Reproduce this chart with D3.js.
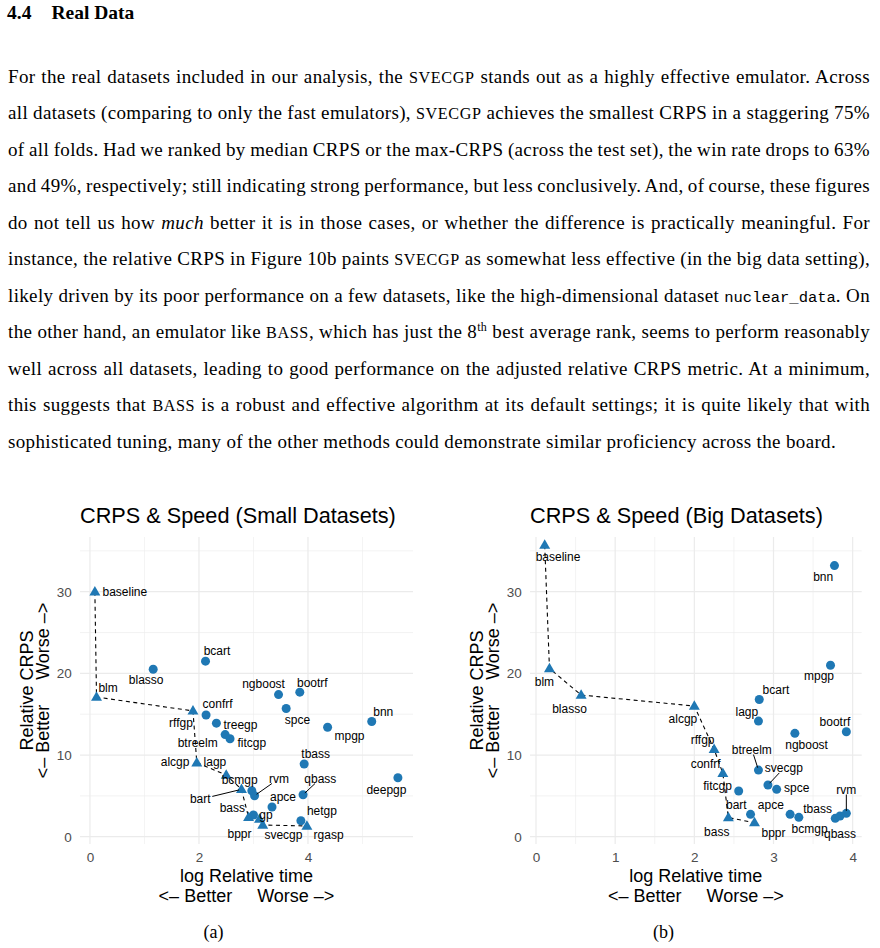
<!DOCTYPE html>
<html>
<head>
<meta charset="utf-8">
<script src="https://cdn.jsdelivr.net/npm/d3@7"></script>
<style>
  body { margin: 0; background: #fff; }
  #page { position: relative; width: 880px; height: 948px; overflow: hidden;
          font-family: "Liberation Serif", "Times New Roman", serif; color: #000; }
  .heading { position: absolute; top: 2px; font-weight: bold; font-size: 19.5px; line-height: 22px; white-space: nowrap; }
  .line { position: absolute; left: 8px; width: 862px; font-size: 19px; letter-spacing: 0.35px;
          line-height: 20px; white-space: nowrap; }
  .sc { font-size: 0.85em; letter-spacing: 0.6px; }
  .tt { font-family: "Liberation Mono", monospace; font-size: 15.5px; letter-spacing: 0; }
  sup { font-size: 12px; line-height: 0; vertical-align: 7px; }
  svg { position: absolute; left: 0; top: 0; }
</style>
</head>
<body>
<div id="page"></div>
<script>
// ---- text of the section ----
const paragraphLines = [
  'For the real datasets included in our analysis, the <span class="sc">SVECGP</span> stands out as a highly effective emulator. Across',
  'all datasets (comparing to only the fast emulators), <span class="sc">SVECGP</span> achieves the smallest CRPS in a staggering 75%',
  'of all folds. Had we ranked by median CRPS or the max-CRPS (across the test set), the win rate drops to 63%',
  'and 49%, respectively; still indicating strong performance, but less conclusively. And, of course, these figures',
  'do not tell us how <i>much</i> better it is in those cases, or whether the difference is practically meaningful. For',
  'instance, the relative CRPS in Figure 10b paints <span class="sc">SVECGP</span> as somewhat less effective (in the big data setting),',
  'likely driven by its poor performance on a few datasets, like the high-dimensional dataset <span class="tt">nuclear_data</span>. On',
  'the other hand, an emulator like <span class="sc">BASS</span>, which has just the 8<sup>th</sup> best average rank, seems to perform reasonably',
  'well across all datasets, leading to good performance on the adjusted relative CRPS metric. At a minimum,',
  'this suggests that <span class="sc">BASS</span> is a robust and effective algorithm at its default settings; it is quite likely that with',
  'sophisticated tuning, many of the other methods could demonstrate similar proficiency across the board.'
];

// ---- small datasets (a) ----
const smallMethods = ["baseline", "blm", "blasso", "bcart", "ngboost", "bootrf", "rffgp", "confrf", "treegp", "btreelm",
  "fitcgp", "alcgp", "lagp", "bart", "bcmgp", "rvm", "apce", "qbass", "tbass", "deepgp", "spce", "mpgp", "bnn",
  "bass", "bppr", "svecgp", "rgasp", "gp", "hetgp"];
const smallTime = [0.09, 0.12, 1.16, 2.12, 3.46, 3.85, 1.89, 2.13, 2.32, 2.48,
  2.57, 1.96, 2.50, 2.78, 2.97, 3.02, 3.34, 3.91, 3.93, 5.65, 3.60, 4.36, 5.17,
  2.91, 3.11, 3.17, 3.98, 3.00, 3.87];
const smallCrps = [30.0, 17.1, 20.5, 21.5, 17.4, 17.7, 15.4, 14.9, 13.9, 12.5,
  12.0, 9.06, 7.55, 5.8, 5.63, 5.02, 3.64, 5.14, 8.9, 7.22, 15.7, 13.4, 14.1,
  2.37, 2.17, 1.43, 1.31, 2.66, 1.96];
const smallFront = ["baseline", "blm", "rffgp", "alcgp", "lagp", "bart", "bass", "bppr", "svecgp", "rgasp"];

// ---- big datasets (b) ----
const bigMethods = ["baseline", "blm", "blasso", "alcgp", "bnn", "mpgp", "bcart", "lagp", "bootrf", "ngboost",
  "rffgp", "confrf", "btreelm", "svecgp", "spce", "fitcgp", "bart", "apce", "bcmgp", "tbass", "qbass", "rvm",
  "bass", "bppr"];
const bigTime = [0.11, 0.17, 0.57, 2.00, 3.77, 3.72, 2.82, 2.81, 3.92, 3.27,
  2.25, 2.36, 2.81, 2.93, 3.04, 2.56, 2.71, 3.21, 3.32, 3.78, 3.84, 3.92,
  2.43, 2.76];
const bigCrps = [35.7, 20.6, 17.35, 16.0, 33.2, 21.0, 16.8, 14.16, 12.85, 12.66,
  10.7, 7.76, 8.16, 6.33, 5.8, 5.59, 2.74, 2.74, 2.37, 2.25, 2.53, 2.86,
  2.33, 1.72];
const bigFront = ["baseline", "blm", "blasso", "alcgp", "rffgp", "confrf", "bass", "bppr"];

// ticks
const yMajor = [0, 10, 20, 30];
const yMinor = [5, 15, 25, 35];
const smallXMajor = [0, 2, 4];
const smallXMinor = [1, 3, 5];
const bigXMajor = [0, 1, 2, 3, 4];
const bigXMinor = [0.5, 1.5, 2.5, 3.5];

// label placement (repel-style nudges in px) and which labels get a leader segment
const smallNudge = {
  baseline: [30, 0], blm: [11.6, -9.4], blasso: [-7, 11], bcart: [11.5, -10.3], ngboost: [-15, -10.4],
  bootrf: [12.5, -9.6], rffgp: [-12, 12.3], confrf: [11.5, -11.3], treegp: [24, 1.7], btreelm: [-27.5, 8.4],
  fitcgp: [21.7, 4.4], alcgp: [-21.7, -0.7], lagp: [-11.3, -13], bart: [-41.2, 9.7], bcmgp: [-12.2, -10.7],
  rvm: [24.5, -17.4], apce: [11, -10.3], qbass: [17.3, -16.4], tbass: [11.5, -10.7], deepgp: [-11.5, 11.6],
  spce: [11.3, 11.7], mpgp: [21.9, 8.7], bnn: [11.5, -10], bass: [-16.2, -10], bppr: [-20, 15.3],
  svecgp: [20.7, 9.3], rgasp: [21.7, 8.3], gp: [12.5, 0], hetgp: [21, -10]
};
const smallLeaders = ["bart", "rvm", "qbass"];
const bigNudge = {
  baseline: [13.3, 11.7], blm: [-5, 13.4], blasso: [-11.6, 13.3], alcgp: [-11.4, 12.6], bnn: [-11.3, 11.3],
  mpgp: [-11.5, 10.7], bcart: [16.7, -9.3], lagp: [-11.6, -9.3], bootrf: [-11.4, -10], ngboost: [11.7, 11],
  rffgp: [-11.5, -9.3], confrf: [-17.2, -10], btreelm: [-6.6, -20.7], svecgp: [15.9, -17.3], spce: [20, -2],
  fitcgp: [-21.2, -5], bart: [-14.2, -9.3], apce: [-19.3, -9.3], bcmgp: [10.8, 11], tbass: [-17.7, -10],
  qbass: [0, 17.3], rvm: [0, -24], bass: [-11.6, 14], bppr: [19, 10.6]
};
const bigLeaders = ["btreelm", "svecgp", "rvm"];

const SANS = '"Liberation Sans", Arial, Helvetica, sans-serif';
const BLUE = "#1f78b4";

// ---- text block ----
const page = d3.select("#page");
page.append("div").attr("class", "heading").style("left", "7px").text("4.4");
page.append("div").attr("class", "heading").style("left", "51.5px").text("Real Data");

const LINE_W = 862;
paragraphLines.forEach((html, i) => {
  const line = page.append("div")
    .attr("class", "line")
    .style("top", (83 + 36.5 * i - 16.4) + "px");
  const inner = line.append("span").html(html);
  if (i < paragraphLines.length - 1) {
    // justify by hand so the line breaks stay where they are in the original
    const natural = inner.node().getBoundingClientRect().width;
    const gaps = inner.node().textContent.replace(/\s+/g, " ").trim().split(" ").length - 1;
    inner.style("word-spacing", ((LINE_W - natural) / gaps) + "px");
  }
});

const svg = page.append("svg").attr("width", 880).attr("height", 948);

class CrpsSpeedPlot {
  constructor(svg, cfg) {
    this.svg = svg;
    Object.assign(this, cfg);
    this.rows = this.methods.map((m, i) => ({
      name: m, time: this.time[i], crps: this.crps[i], front: this.frontSet.includes(m)
    }));
    this.draw();
  }

  draw() {
    this.plot = this.svg.append("g");
    this.createScales();
    this.drawGrid();
    this.drawAxis();
    this.drawFront();
    this.drawPoints();
    this.drawLabels();
  }

  createScales() {
    const b = this.box;
    this.xScale = d3.scaleLinear().domain(this.xDomain).range([b.left, b.right]);
    this.yScale = d3.scaleLinear().domain([-0.894, 36.70]).range([b.bottom, b.top]);
  }

  drawGrid() {
    const b = this.box, g = this.plot.append("g").attr("stroke", "#ebebeb").attr("fill", "none");
    g.selectAll(".ymin").data(yMinor).join("line")
      .attr("x1", b.left).attr("x2", b.right)
      .attr("y1", d => this.yScale(d)).attr("y2", d => this.yScale(d)).attr("stroke-width", 0.6);
    g.selectAll(".xmin").data(this.xMinor).join("line")
      .attr("y1", b.top).attr("y2", b.bottom)
      .attr("x1", d => this.xScale(d)).attr("x2", d => this.xScale(d)).attr("stroke-width", 0.6);
    g.selectAll(".ymaj").data(yMajor).join("line")
      .attr("x1", b.left).attr("x2", b.right)
      .attr("y1", d => this.yScale(d)).attr("y2", d => this.yScale(d)).attr("stroke-width", 1.2);
    g.selectAll(".xmaj").data(this.xMajor).join("line")
      .attr("y1", b.top).attr("y2", b.bottom)
      .attr("x1", d => this.xScale(d)).attr("x2", d => this.xScale(d)).attr("stroke-width", 1.2);
  }

  drawAxis() {
    const b = this.box;
    const ax = this.plot.append("g")
      .attr("transform", `translate(0,${b.bottom})`)
      .call(d3.axisBottom(this.xScale).tickValues(this.xMajor).tickSize(0).tickPadding(8).tickFormat(d3.format("d")));
    const ay = this.plot.append("g")
      .attr("transform", `translate(${b.left},0)`)
      .call(d3.axisLeft(this.yScale).tickValues(yMajor).tickSize(0).tickPadding(8.3));
    [ax, ay].forEach(a => {
      a.select(".domain").remove();
      a.selectAll("text").attr("fill", "#4d4d4d").style("font-family", SANS).style("font-size", "13.5px");
    });

    const cx = (b.left + b.right) / 2, cy = (b.top + b.bottom) / 2;
    const t = this.plot.append("g").attr("fill", "#000").style("font-family", SANS);
    t.append("text").attr("x", b.left).attr("y", 523.3)
      .style("font-size", "21.7px").text(this.title);
    t.append("text").attr("x", cx).attr("y", 881.7).attr("text-anchor", "middle")
      .style("font-size", "18px").text("log Relative time");
    t.append("text").attr("x", cx).attr("y", 901.7).attr("text-anchor", "middle")
      .style("font-size", "18px").style("white-space", "pre").text("<\u2013 Better     Worse \u2013>");
    t.append("text").attr("transform", `translate(${b.left - 46.7},${cy}) rotate(-90)`)
      .attr("text-anchor", "middle").style("font-size", "18px").text("Relative CRPS");
    t.append("text").attr("transform", `translate(${b.left - 30.6},${cy}) rotate(-90)`)
      .attr("text-anchor", "middle").style("font-size", "18px").style("white-space", "pre")
      .text("<\u2013 Better     Worse \u2013>");

    this.svg.append("text").attr("x", this.captionX).attr("y", 938).attr("text-anchor", "middle")
      .style("font-family", '"Liberation Serif", "Times New Roman", serif').style("font-size", "18px")
      .text(this.caption);
  }

  drawFront() {
    const pts = this.rows.filter(d => d.front).sort((a, b) => a.time - b.time);
    const line = d3.line().x(d => this.xScale(d.time)).y(d => this.yScale(d.crps));
    this.plot.append("path")
      .datum(pts)
      .attr("d", line)
      .attr("fill", "none")
      .attr("stroke", "#000")
      .attr("stroke-width", 1.1)
      .attr("stroke-dasharray", "4,3.5");
  }

  drawPoints() {
    const g = this.plot.append("g").attr("fill", BLUE);
    g.selectAll("circle").data(this.rows.filter(d => !d.front)).join("circle")
      .attr("cx", d => this.xScale(d.time)).attr("cy", d => this.yScale(d.crps)).attr("r", 4.5);
    const tri = d3.symbol().type(d3.symbolTriangle).size(52);
    g.selectAll("path").data(this.rows.filter(d => d.front)).join("path")
      .attr("d", tri)
      .attr("transform", d => `translate(${this.xScale(d.time)},${this.yScale(d.crps) + 0.5})`);
  }

  drawLabels() {
    const g = this.plot.append("g").style("font-family", SANS).style("font-size", "12px").attr("fill", "#000");
    this.rows.forEach(d => {
      const px = this.xScale(d.time), py = this.yScale(d.crps);
      const [dx, dy] = this.nudge[d.name];
      const txt = g.append("text")
        .attr("x", px + dx).attr("y", py + dy)
        .attr("text-anchor", "middle").attr("dy", "0.35em")
        .text(d.name);
      if (this.leaders.includes(d.name)) {
        const bb = txt.node().getBBox();
        const cx = bb.x + bb.width / 2, cy = bb.y + bb.height / 2;
        const vx = px - cx, vy = py - cy;
        const t = Math.min((bb.width / 2 + 1) / Math.abs(vx || 1e-6), (bb.height / 2 - 2) / Math.abs(vy || 1e-6), 1);
        const ex = cx + vx * t, ey = cy + vy * t;
        const len = Math.hypot(px - ex, py - ey);
        const sx = px - (px - ex) / len * 2.5, sy = py - (py - ey) / len * 2.5;
        g.append("line").attr("x1", ex).attr("y1", ey).attr("x2", sx).attr("y2", sy)
          .attr("stroke", "#000").attr("stroke-width", 1);
      }
    });
  }
}

new CrpsSpeedPlot(svg, {
  title: "CRPS & Speed (Small Datasets)", caption: "(a)", captionX: 213.5,
  methods: smallMethods, time: smallTime, crps: smallCrps, frontSet: smallFront,
  xMajor: smallXMajor, xMinor: smallXMinor, xDomain: [-0.183, 5.927],
  box: { left: 80, right: 413, top: 537, bottom: 844 },
  nudge: smallNudge, leaders: smallLeaders
});

new CrpsSpeedPlot(svg, {
  title: "CRPS & Speed (Big Datasets)", caption: "(b)", captionX: 663.5,
  methods: bigMethods, time: bigTime, crps: bigCrps, frontSet: bigFront,
  xMajor: bigXMajor, xMinor: bigXMinor, xDomain: [-0.0758, 4.114],
  box: { left: 530, right: 861.7, top: 537, bottom: 844 },
  nudge: bigNudge, leaders: bigLeaders
});
</script>
</body>
</html>
